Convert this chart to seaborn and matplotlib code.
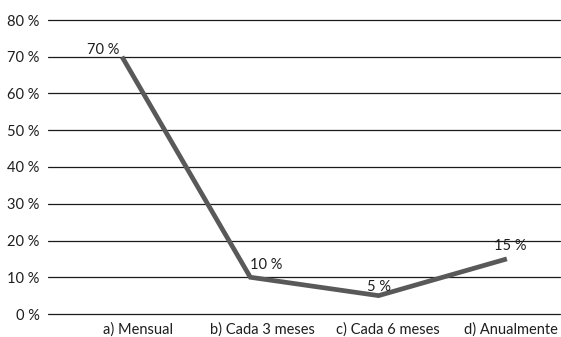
import matplotlib
matplotlib.use("Agg")
import matplotlib.pyplot as plt
import seaborn as sns
import pandas as pd

categories = ["a) Mensual", "b) Cada 3 meses", "c) Cada 6 meses", "d) Anualmente"]
values = [70, 10, 5, 15]
y_ticks = [0, 10, 20, 30, 40, 50, 60, 70, 80]

sns.set_theme(style="white")
plt.rcParams["font.family"] = ["Lato", "DejaVu Sans"]

df = pd.DataFrame({"pos": range(len(categories)), "val": values})

fig = plt.figure(figsize=(5.61, 3.37), dpi=100)
ax = fig.add_axes([48 / 561, 1 - 314 / 337, (560 - 48) / 561, (314 - 20) / 337])

sns.lineplot(data=df, x="pos", y="val", ax=ax, color="#595959", linewidth=3.4,
             solid_joinstyle="miter", solid_capstyle="butt")

ax.set_ylim(0, 80)
ax.set_xlim(-0.577, 3.414)
ax.set_yticks(y_ticks)
ax.set_yticklabels([f"{t} %" for t in y_ticks], fontsize=10.5, color="#1e1e1e")
for t in y_ticks:
    ax.axhline(t, color="#1a1a1a", linewidth=0.9, zorder=0, clip_on=False)

# category labels sit a little to the right of their points
label_shift = [0.125, 0.094, 0.07, 0.03]
ax.set_xticks([i + s for i, s in enumerate(label_shift)])
ax.set_xticklabels(categories, fontsize=10.5, color="#1e1e1e")
ax.tick_params(axis="x", length=0, pad=6)
ax.tick_params(axis="y", length=0, pad=6)
ax.set_xlabel("")
ax.set_ylabel("")
for s in ax.spines.values():
    s.set_visible(False)

offsets = [(-19, 7), (16, 12), (0, 9), (3, 13)]
for i, (v, (dx, dy)) in enumerate(zip(values, offsets)):
    ax.annotate(f"{v} %", (i, v), xytext=(dx * 0.72, dy * 0.72), textcoords="offset points",
                ha="center", va="center", fontsize=10.5, color="#1e1e1e")

fig.savefig("out.png", dpi=100)
